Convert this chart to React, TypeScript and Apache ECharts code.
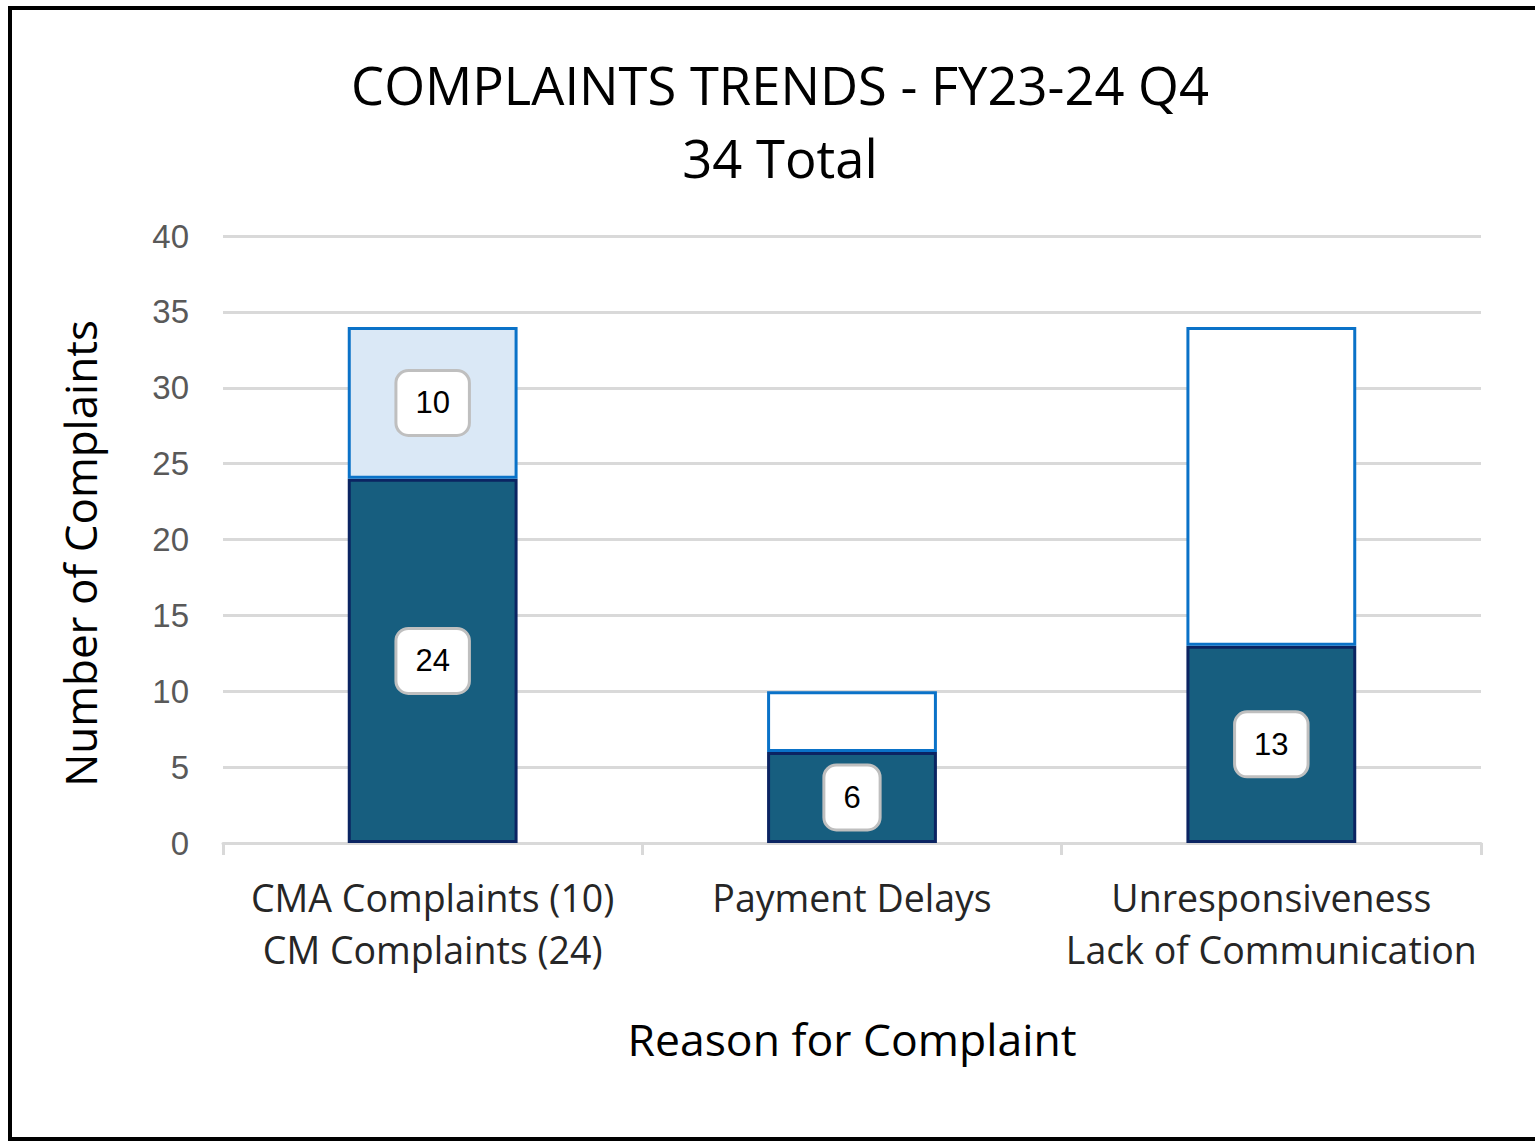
import React, { useEffect, useRef } from "react";
import * as echarts from "echarts";

const categories = [
  "CMA Complaints (10)\nCM Complaints (24)",
  "Payment Delays",
  "Unresponsiveness\nLack of Communication",
];
const baseValues = [24, 6, 13];
const topValues = [10, 4, 21];
const topLabelShown = [true, false, false];
const topFills = ["#DAE8F6", "#FFFFFF", "#FFFFFF"];
const yTicks = { min: 0, max: 40, interval: 5 };

const FONT = "'Open Sans', sans-serif";
const NUMFONT = "'Liberation Sans', Arial, sans-serif";

const labelBox = {
  show: true,
  position: "inside",
  color: "#000000",
  fontFamily: NUMFONT,
  fontSize: 31,
  backgroundColor: "#FFFFFF",
  borderColor: "#BFBFBF",
  borderWidth: 3,
  borderRadius: 11,
  padding: [16, 18, 15, 18],
};

export default function App() {
  const ref = useRef<HTMLDivElement>(null);
  useEffect(() => {
    if (!ref.current) return;
    const chart = echarts.init(ref.current, null, { renderer: "svg" });
    chart.setOption({
      animation: false,
      backgroundColor: "#FFFFFF",
      title: {
        text: "COMPLAINTS TRENDS - FY23-24 Q4\n34 Total",
        left: 775,
        top: 43,
        textAlign: "center",
        textStyle: {
          fontFamily: FONT,
          fontSize: 52.5,
          fontWeight: "normal",
          color: "#000000",
          lineHeight: 73,
        },
      },
      grid: { left: 223, right: 54, top: 236, bottom: 298, containLabel: false },
      xAxis: {
        type: "category",
        data: categories,
        name: "Reason for Complaint",
        nameLocation: "middle",
        nameGap: 173,
        nameTextStyle: { fontFamily: FONT, fontSize: 44.5, color: "#000000" },
        axisLine: { lineStyle: { color: "#D9D9D9", width: 3 } },
        axisTick: { show: true, length: 12, lineStyle: { color: "#D9D9D9", width: 3 } },
        axisLabel: {
          margin: 28,
          fontFamily: FONT,
          fontSize: 37.5,
          lineHeight: 52,
          color: "#262626",
          interval: 0,
        },
      },
      yAxis: {
        type: "value",
        min: yTicks.min,
        max: yTicks.max,
        interval: yTicks.interval,
        name: "Number of Complaints",
        nameLocation: "middle",
        nameGap: 121,
        nameTextStyle: {
          fontFamily: FONT,
          fontSize: 44,
          color: "#000000",
          padding: [0, 28, 0, 0],
        },
        axisLine: { show: false },
        axisTick: { show: false },
        axisLabel: { margin: 34, fontFamily: NUMFONT, fontSize: 33, color: "#595959" },
        splitLine: { lineStyle: { color: "#D9D9D9", width: 3 } },
      },
      series: [
        {
          type: "bar",
          stack: "total",
          barWidth: "40.5%",
          data: baseValues,
          itemStyle: { color: "#175E7F", borderColor: "#0B2462", borderWidth: 3 },
          label: labelBox,
        },
        {
          type: "bar",
          stack: "total",
          barWidth: "40.5%",
          data: topValues.map((v, i) => ({
            value: v,
            itemStyle: { color: topFills[i], borderColor: "#0A72C8", borderWidth: 3 },
            label: { ...labelBox, show: topLabelShown[i] },
          })),
        },
      ],
      graphic: [
        {
          type: "polyline",
          shape: { points: [[1540, 8], [10, 8], [10, 1139], [1540, 1139]] },
          style: { stroke: "#000000", lineWidth: 4, fill: null },
        },
      ],
    });
    return () => chart.dispose();
  }, []);
  return (
    <div
      ref={ref}
      style={{ position: "absolute", left: 0, top: 0, width: 1535, height: 1141 }}
    />
  );
}
